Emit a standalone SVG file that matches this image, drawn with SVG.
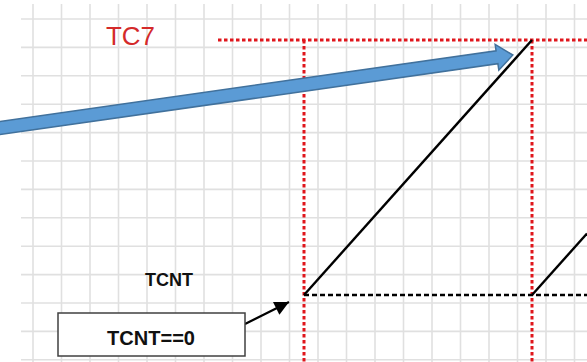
<svg xmlns="http://www.w3.org/2000/svg" width="587" height="362" viewBox="0 0 587 362">
<style>
.grid line{stroke:#e0e0e0;stroke-width:1.6}
.red{stroke:#e0161c;stroke-width:3;stroke-dasharray:3.5 2.5;fill:none}
.ramp{stroke:#000;stroke-width:2.4;fill:none}
.base{stroke:#000;stroke-width:2.6;stroke-dasharray:5 3;fill:none}
.lbl{font-family:"Liberation Sans",Arial,sans-serif;font-weight:bold;fill:#111}
</style>
<defs>
<marker id="ah" viewBox="0 0 10 10" refX="10" refY="5" markerWidth="7" markerHeight="6.5" orient="auto" markerUnits="strokeWidth">
<path d="M0,0 L10,5 L0,10 Z" fill="#000"/>
</marker>
</defs>
<rect width="587" height="362" fill="#fff"/>
<g class="grid" id="grid">
<line x1="33" y1="4" x2="33" y2="362"/>
<line x1="61.5" y1="4" x2="61.5" y2="362"/>
<line x1="90" y1="4" x2="90" y2="362"/>
<line x1="118.5" y1="4" x2="118.5" y2="362"/>
<line x1="147" y1="4" x2="147" y2="362"/>
<line x1="175.5" y1="4" x2="175.5" y2="362"/>
<line x1="204" y1="4" x2="204" y2="362"/>
<line x1="232.5" y1="4" x2="232.5" y2="362"/>
<line x1="261" y1="4" x2="261" y2="362"/>
<line x1="289.5" y1="4" x2="289.5" y2="362"/>
<line x1="318" y1="4" x2="318" y2="362"/>
<line x1="346.5" y1="4" x2="346.5" y2="362"/>
<line x1="375" y1="4" x2="375" y2="362"/>
<line x1="403.5" y1="4" x2="403.5" y2="362"/>
<line x1="432" y1="4" x2="432" y2="362"/>
<line x1="460.5" y1="4" x2="460.5" y2="362"/>
<line x1="489" y1="4" x2="489" y2="362"/>
<line x1="517.5" y1="4" x2="517.5" y2="362"/>
<line x1="546" y1="4" x2="546" y2="362"/>
<line x1="574.5" y1="4" x2="574.5" y2="362"/>
<line x1="21" y1="19" x2="587" y2="19"/>
<line x1="21" y1="47.4" x2="587" y2="47.4"/>
<line x1="21" y1="75.8" x2="587" y2="75.8"/>
<line x1="21" y1="104.2" x2="587" y2="104.2"/>
<line x1="21" y1="132.6" x2="587" y2="132.6"/>
<line x1="21" y1="161" x2="587" y2="161"/>
<line x1="21" y1="189.4" x2="587" y2="189.4"/>
<line x1="21" y1="217.8" x2="587" y2="217.8"/>
<line x1="21" y1="246.2" x2="587" y2="246.2"/>
<line x1="21" y1="274.6" x2="587" y2="274.6"/>
<line x1="21" y1="303" x2="587" y2="303"/>
<line x1="21" y1="331.4" x2="587" y2="331.4"/>
<line x1="21" y1="359.8" x2="587" y2="359.8"/>
</g>
<g id="connectors">
<line class="red" x1="218" y1="40" x2="587" y2="40"/>
<line class="red" x1="304" y1="40" x2="304" y2="362"/>
<line class="red" x1="532" y1="40" x2="532" y2="362"/>
<line class="base" x1="304" y1="295" x2="587" y2="295"/>
<line class="ramp" x1="304" y1="295" x2="532" y2="40"/>
<line class="ramp" x1="532" y1="295" x2="587" y2="233.5"/>
<path d="M-20,-6.5 L502,-6.5 L502,-13 L518,0 L502,13 L502,6.5 L-20,6.5 Z" transform="translate(0,128) rotate(-8.1)" fill="#5b9bd5" stroke="#41719c" stroke-width="1.5"/>
<line x1="245" y1="324" x2="289" y2="302" stroke="#000" stroke-width="2.2" marker-end="url(#ah)"/>
</g>
<g id="tc7">
<text x="106" y="45" font-family="'Liberation Sans',Arial,sans-serif" font-size="26" fill="#d42a2a" textLength="49" lengthAdjust="spacingAndGlyphs">TC7</text>
</g>
<g id="tcnt">
<text class="lbl" x="145" y="286" font-size="19" textLength="48" lengthAdjust="spacingAndGlyphs">TCNT</text>
</g>
<g id="tcnt0">
<rect x="58" y="313" width="187" height="43" fill="#fff" stroke="#404040" stroke-width="1.5"/>
<text class="lbl" x="107" y="345" font-size="21" textLength="88" lengthAdjust="spacingAndGlyphs">TCNT==0</text>
</g>
</svg>
